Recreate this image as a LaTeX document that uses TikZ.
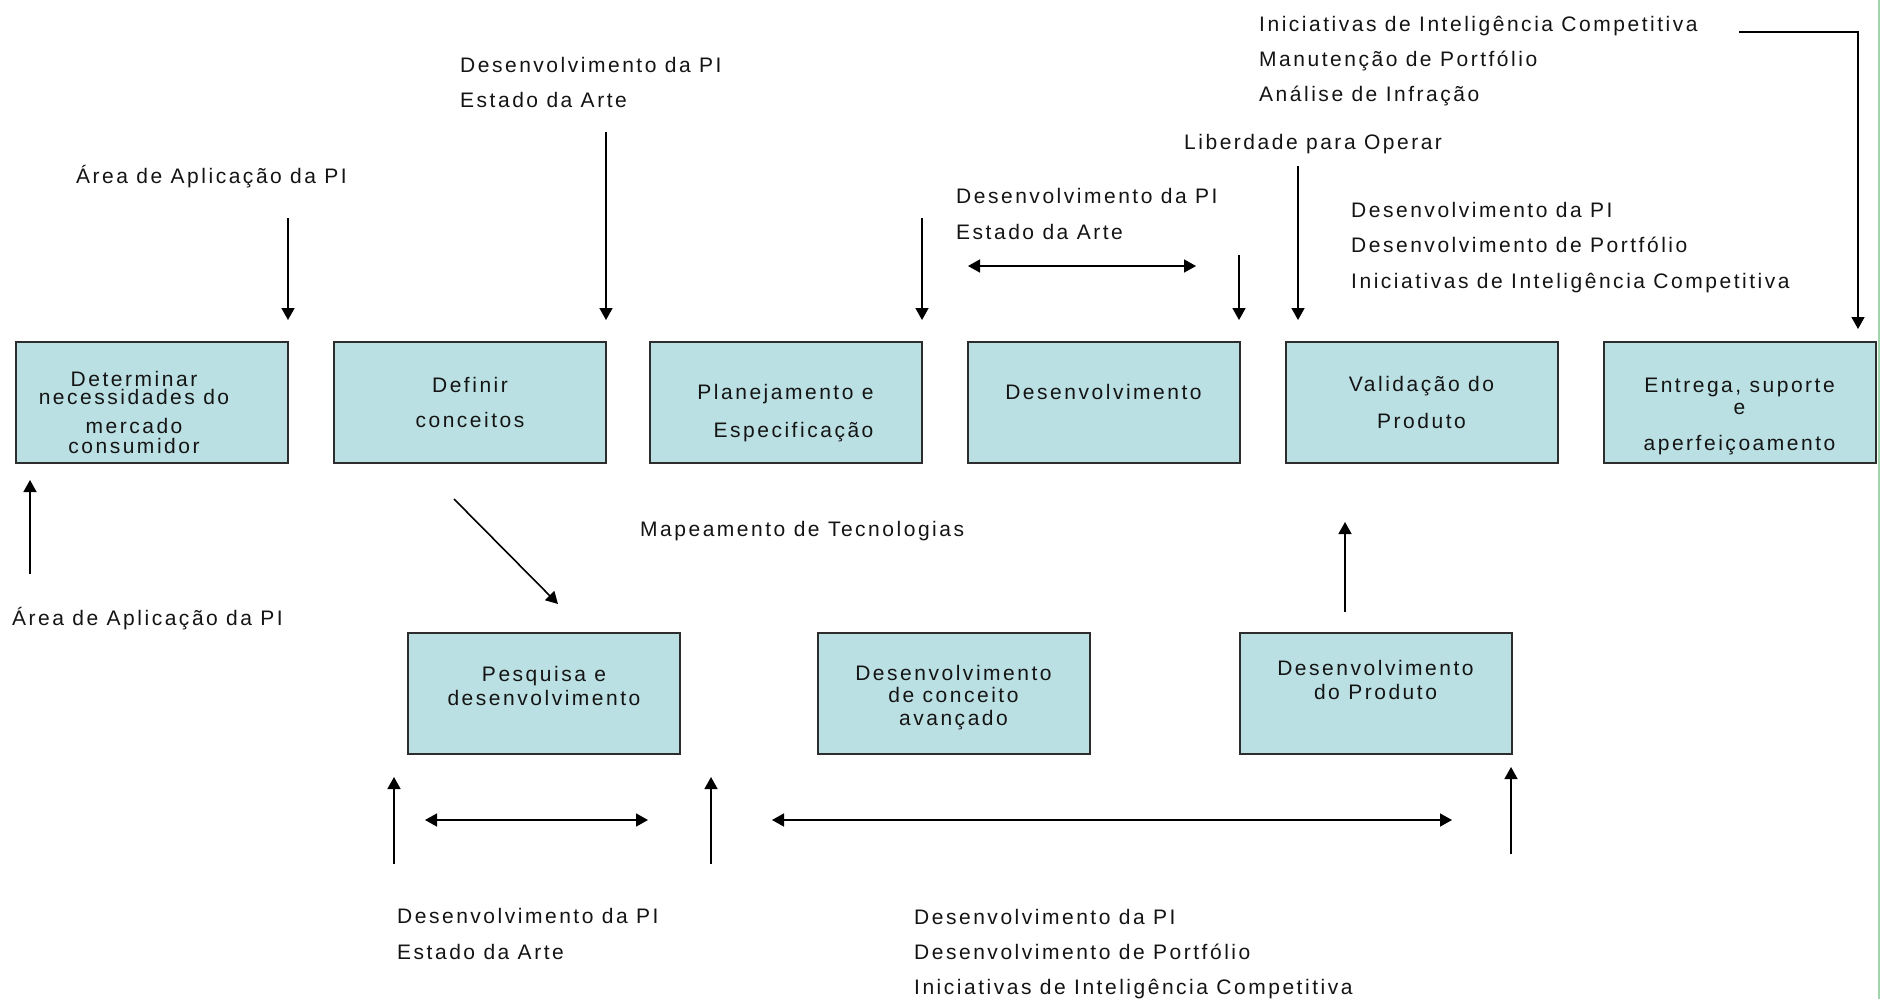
\documentclass[tikz,border=0pt]{standalone}
\usepackage{fontspec}
\setmainfont{Liberation Sans}[LetterSpace=12]
\usetikzlibrary{arrows.meta}
\definecolor{boxfill}{RGB}{187,224,227}
\definecolor{boxline}{RGB}{45,45,45}
\definecolor{txt}{RGB}{20,20,20}
\definecolor{edgegreen}{RGB}{160,212,170}
\newcommand\lblfont{\fontsize{21}{24}\selectfont}
\newcommand\boxfont{\fontsize{21}{18}\selectfont}
\begin{document}
\begin{tikzpicture}[x=1pt,y=-1pt,
  box/.style={draw=boxline, line width=2pt, fill=boxfill, minimum width=272pt, minimum height=121pt, inner sep=0pt, align=center, font=\boxfont, text=txt},
  lbl/.style={anchor=base west, inner sep=0pt, font=\lblfont, text=txt},
  arr/.style={line width=1.6pt, -{Triangle[length=12pt,width=13pt]}},
  darr/.style={line width=1.6pt, {Triangle[length=12pt,width=13pt]}-{Triangle[length=12pt,width=13pt]}}]
\fill[white] (0,0) rectangle (1881,999);
\useasboundingbox (0,0) rectangle (1881,999);
\draw[edgegreen, line width=2.5pt] (1879,0) -- (1879,999);

% top row boxes
\node[box] (box1) at (152,402.5) {\mbox{}\\[18pt]Determinar\hspace*{36pt}\null\\necessidades do\hspace*{36pt}\null\\[11pt]mercado\hspace*{36pt}\null\\[2pt]consumidor\hspace*{36pt}\null};
\node[box] (box2) at (470,402.5) {Definir\\[17pt]conceitos};
\node[box] (box3) at (785.5,402.5) {\mbox{}\\[18pt]Planejamento e\\[17pt]\hspace*{16pt}Especificação};
\node[box] (box4) at (1103.5,402.5) {Desenvolvimento\\[4pt]\mbox{}};
\node[box] (box5) at (1421.5,402.5) {Validação do\\[17pt]Produto};
\node[box] (box6) at (1739.5,402.5) {\mbox{}\\[25pt]Entrega, suporte\\[4pt]e\\[18pt]aperfeiçoamento};

% bottom row boxes
\node[box] (bot1) at (544,693) {Pesquisa e\\[4pt]desenvolvimento\\[-4pt]\mbox{}};
\node[box] (bot2) at (953.5,693) {\mbox{}\\[7pt]Desenvolvimento\\[4pt]de conceito\\[5pt]avançado};
\node[box] (bot3) at (1375.5,693) {Desenvolvimento\\[6pt]do Produto\\[8pt]\mbox{}};

% labels
\node[lbl] (t1) at (76,183) {Área de Aplicação da PI};
\node[lbl] (t2a) at (460,72) {Desenvolvimento da PI};
\node[lbl] (t2b) at (460,107) {Estado da Arte};
\node[lbl] (t3a) at (956,203) {Desenvolvimento da PI};
\node[lbl] (t3b) at (956,239) {Estado da Arte};
\node[lbl] (t4) at (1184,149) {Liberdade para Operar};
\node[lbl] (t5a) at (1259,31) {Iniciativas de Inteligência Competitiva};
\node[lbl] (t5b) at (1259,66) {Manutenção de Portfólio};
\node[lbl] (t5c) at (1259,101) {Análise de Infração};
\node[lbl] (t6a) at (1351,217) {Desenvolvimento da PI};
\node[lbl] (t6b) at (1351,252) {Desenvolvimento de Portfólio};
\node[lbl] (t6c) at (1351,288) {Iniciativas de Inteligência Competitiva};
\node[lbl] (t7) at (640,536) {Mapeamento de Tecnologias};
\node[lbl] (t8) at (12,625) {Área de Aplicação da PI};
\node[lbl] (t9a) at (397,923) {Desenvolvimento da PI};
\node[lbl] (t9b) at (397,959) {Estado da Arte};
\node[lbl] (t10a) at (914,924) {Desenvolvimento da PI};
\node[lbl] (t10b) at (914,959) {Desenvolvimento de Portfólio};
\node[lbl] (t10c) at (914,994) {Iniciativas de Inteligência Competitiva};

% arrow end points
\coordinate (a1s) at (288,218);  \coordinate (a1e) at (288,320);
\coordinate (a2s) at (606,132);  \coordinate (a2e) at (606,320);
\coordinate (a3s) at (922,218);  \coordinate (a3e) at (922,320);
\coordinate (d1l) at (968,266);  \coordinate (d1r) at (1196,266);
\coordinate (a4s) at (1239,255); \coordinate (a4e) at (1239,320);
\coordinate (a5s) at (1298,166); \coordinate (a5e) at (1298,320);
\coordinate (e1s) at (1739,32);  \coordinate (e1e) at (1858,329);
\coordinate (u1s) at (30,574);   \coordinate (u1e) at (30,480);
\coordinate (g1s) at (454,499);  \coordinate (g1e) at (558,604);
\coordinate (u2s) at (1345,612); \coordinate (u2e) at (1345,522);
\coordinate (u3s) at (394,864);  \coordinate (u3e) at (394,777);
\coordinate (d2l) at (425,820);  \coordinate (d2r) at (648,820);
\coordinate (u4s) at (711,864);  \coordinate (u4e) at (711,777);
\coordinate (d3l) at (772,820);  \coordinate (d3r) at (1452,820);
\coordinate (u5s) at (1511,854); \coordinate (u5e) at (1511,767);

\draw[arr] (a1s) -- (a1e);
\draw[arr] (a2s) -- (a2e);
\draw[arr] (a3s) -- (a3e);
\draw[darr] (d1l) -- (d1r);
\draw[arr] (a4s) -- (a4e);
\draw[arr] (a5s) -- (a5e);
\draw[arr] (e1s) -| (e1e);
\draw[arr] (u1s) -- (u1e);
\draw[arr] (g1s) -- (g1e);
\draw[arr] (u2s) -- (u2e);
\draw[arr] (u3s) -- (u3e);
\draw[darr] (d2l) -- (d2r);
\draw[arr] (u4s) -- (u4e);
\draw[darr] (d3l) -- (d3r);
\draw[arr] (u5s) -- (u5e);
\end{tikzpicture}
\end{document}
